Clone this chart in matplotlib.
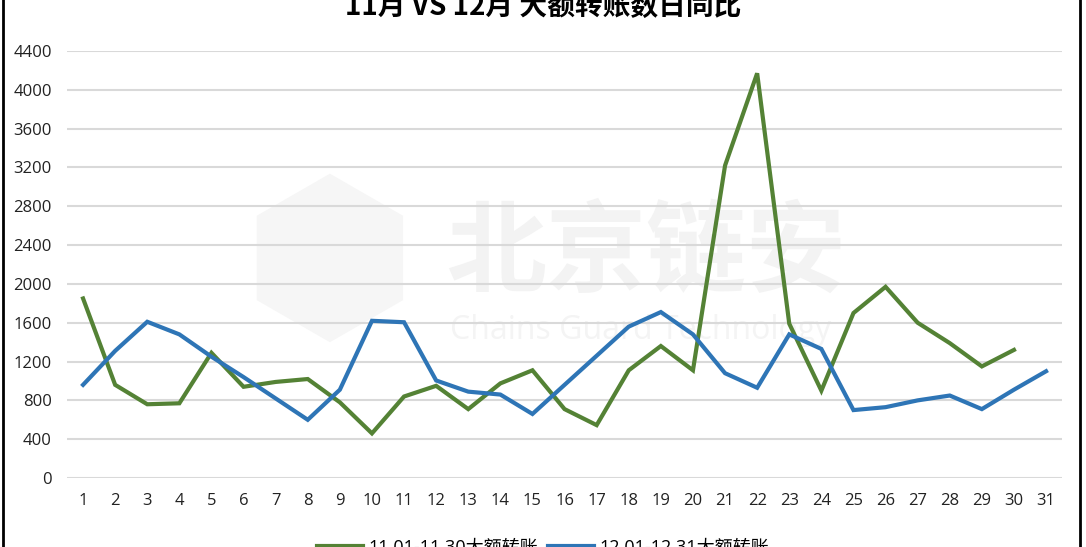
import matplotlib.pyplot as plt
from matplotlib.lines import Line2D

plt.rcParams['font.family'] = ['Open Sans', 'Noto Sans CJK SC', 'DejaVu Sans']

days = list(range(1, 32))
nov_counts = [1850, 960, 760, 770, 1290, 940, 990, 1020, 780, 460,
              840, 950, 710, 975, 1110, 710, 545, 1110, 1360, 1110,
              3220, 4170, 1590, 900, 1700, 1970, 1600, 1390, 1150, 1320]
dec_counts = [960, 1310, 1610, 1480, 1250, 1040, 820, 600, 910, 1620,
              1605, 1005, 890, 860, 660, 960, 1260, 1560, 1710, 1480,
              1080, 930, 1480, 1330, 700, 730, 800, 850, 710, 910, 1100]
nov_label = '11.01-11.30大额转账'
dec_label = '12.01-12.31大额转账'
title = '11月 VS 12月 大额转账数日同比'

green = '#548235'
blue = '#2E75B6'

fig = plt.figure(figsize=(10.86, 5.47), dpi=100)
ax = fig.add_axes([0.0617, 0.1261, 0.9163, 0.7807])
ax.set_zorder(2)
ax.patch.set_alpha(0)

# faint watermark behind the plot
fig.text(0.595, 0.535, '北京链安', fontsize=72, color='#f3f3f3', ha='center', va='center',
         family=['Noto Sans CJK SC'], fontweight='bold', zorder=0)
fig.text(0.59, 0.395, 'Chains Guard Technology', fontsize=23, color='#f4f4f4',
         ha='center', va='center', family=['Open Sans'], zorder=0)
fig.text(0.303, 0.51, '⬢', fontsize=145, color='#f6f6f6', ha='center', va='center',
         family=['DejaVu Sans'], zorder=0)

ax.plot(days[:len(nov_counts)], nov_counts, color=green, lw=3.0, label=nov_label,
        solid_joinstyle='miter', zorder=3)
ax.plot(days, dec_counts, color=blue, lw=3.0, label=dec_label,
        solid_joinstyle='miter', zorder=3)

ax.set_xlim(0.5, 31.5)
ax.set_ylim(0, 4400)
ax.set_yticks(range(0, 4401, 400))
ax.set_xticks(days)
ax.grid(axis='y', color='#d9d9d9', lw=1.5)
ax.set_axisbelow(True)
for s in ax.spines.values():
    s.set_visible(False)
ax.tick_params(length=0, labelsize=12, colors='#222222')
ax.tick_params(axis='x', pad=11)
ax.tick_params(axis='y', pad=11)

fig.text(0.5, 0.985, title, fontsize=20, fontweight='bold', ha='center', va='center',
         family=['Noto Sans CJK SC'])

fig.legend(loc='center', bbox_to_anchor=(0.5, 0.0), ncol=2, frameon=False,
           handlelength=2.6, columnspacing=0.5, handletextpad=0.3,
           prop={'family': ['Open Sans', 'Noto Sans CJK SC'], 'size': 13})

# outer frame edges
fig.add_artist(Line2D([0.003, 0.003], [0, 1], color='black', lw=2, transform=fig.transFigure))
fig.add_artist(Line2D([0.9945, 0.9945], [0, 1], color='black', lw=2, transform=fig.transFigure))

fig.savefig('out.png', dpi=100)
